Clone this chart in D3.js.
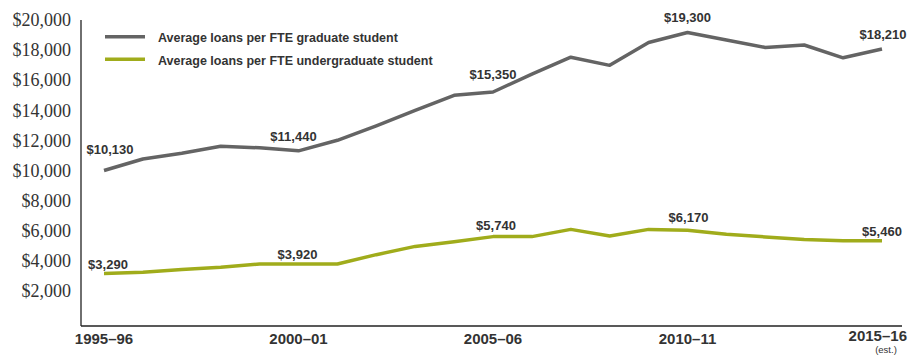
<!DOCTYPE html>
<meta charset="utf-8">
<head>
<title>Average loans per FTE student</title>
<style>
  body { margin: 0; background: #fff; }
  .ytick text { font-family: "Liberation Serif", serif; font-size: 18px; fill: #333; }
  .xlab { font-family: "Liberation Sans", Arial, sans-serif; font-weight: bold; font-size: 15px; fill: #333; }
  .note { font-family: "Liberation Sans", Arial, sans-serif; font-weight: bold; font-size: 13px; fill: #333; }
  .est { font-family: "Liberation Sans", Arial, sans-serif; font-size: 9.5px; fill: #333; }
  .legend text { font-family: "Liberation Sans", Arial, sans-serif; font-weight: bold; font-size: 12.5px; fill: #333; }
</style>
</head>
<body>
<script src="https://cdn.jsdelivr.net/npm/d3@7"></script>
<script>

// academic years 1995-96 .. 2015-16
var years = ["1995–96","1996–97","1997–98","1998–99","1999–00","2000–01","2001–02","2002–03",
  "2003–04","2004–05","2005–06","2006–07","2007–08","2008–09","2009–10","2010–11",
  "2011–12","2012–13","2013–14","2014–15","2015–16"];

var gradLoans = [10130, 10900, 11280, 11750, 11640, 11440, 12140, 13100, 14120, 15130, 15350,
  16540, 17660, 17120, 18640, 19300, 18810, 18310, 18470, 17620, 18210];

var undergradLoans = [3290, 3370, 3550, 3700, 3920, 3920, 3920, 4540, 5090, 5400, 5740,
  5740, 6220, 5780, 6220, 6170, 5890, 5720, 5555, 5460, 5460];

var yTicks = [2000, 4000, 6000, 8000, 10000, 12000, 14000, 16000, 18000, 20000];
var xLabelYears = ["1995–96", "2000–01", "2005–06", "2010–11", "2015–16"];
var labelled = [0, 5, 10, 15, 20];

var width = 909, height = 357;

var svg = d3.select("body").append("svg")
    .attr("width", width)
    .attr("height", height);

var x = d3.scalePoint()
    .domain(years)
    .range([104, 882]);

var y = d3.scaleLinear()
    .domain([0, 20000])
    .range([323, 22]);

var fmt = d3.format("$,");

// y axis labels
var yAxis = d3.axisLeft(y)
    .tickValues(yTicks)
    .tickSize(0)
    .tickPadding(10)
    .tickFormat(fmt);

var yg = svg.append("g")
    .attr("class", "ytick")
    .attr("transform", "translate(81,-2)")
    .call(yAxis);
yg.select(".domain").remove();

// axis lines
svg.append("line")
    .attr("x1", 81).attr("x2", 81)
    .attr("y1", 20).attr("y2", 326)
    .attr("stroke", "#222").attr("stroke-width", 1.3);
svg.append("line")
    .attr("x1", 81).attr("x2", 902)
    .attr("y1", 326).attr("y2", 326)
    .attr("stroke", "#222").attr("stroke-width", 1.3);

// x labels (last one sits against the right edge, a bit higher)
svg.selectAll("text.xlab")
    .data(xLabelYears)
  .enter().append("text")
    .attr("class", "xlab")
    .attr("x", function(d, i) { return i == xLabelYears.length - 1 ? 907 : x(d); })
    .attr("y", function(d, i) { return i == xLabelYears.length - 1 ? 341 : 344; })
    .attr("text-anchor", function(d, i) { return i == xLabelYears.length - 1 ? "end" : "middle"; })
    .text(function(d) { return d; });

svg.append("text")
    .attr("class", "est")
    .attr("x", x("2015–16") + 4)
    .attr("y", 353)
    .attr("text-anchor", "middle")
    .text("(est.)");

var line = d3.line()
    .x(function(d, i) { return x(years[i]); })
    .y(function(d) { return y(d); });

var series = [
  {values: gradLoans, color: "#646464", dy: [-17, -10, -13, -11, -10], dx: [6, -5, 0, 0, 1]},
  {values: undergradLoans, color: "#a0ac1b", dy: [-4, -5, -7, -8, -5], dx: [4, -1, 3, 1, 0]}
];

series.forEach(function(s) {
  svg.append("path")
      .datum(s.values)
      .attr("fill", "none")
      .attr("stroke", s.color)
      .attr("stroke-width", 3.5)
      .attr("stroke-linejoin", "round")
      .attr("d", line);

  svg.selectAll(null)
      .data(labelled)
    .enter().append("text")
      .attr("class", "note")
      .attr("text-anchor", "middle")
      .attr("x", function(i, k) { return x(years[i]) + s.dx[k]; })
      .attr("y", function(i, k) { return y(s.values[i]) + s.dy[k]; })
      .text(function(i) { return fmt(s.values[i]); });
});

// legend
var legend = svg.append("g").attr("class", "legend");
var legendItems = [
  {label: "Average loans per FTE graduate student", color: "#646464"},
  {label: "Average loans per FTE undergraduate student", color: "#a0ac1b"}
];
legendItems.forEach(function(d, i) {
  var ly = 36.7 + i * 22.6;
  legend.append("line")
      .attr("x1", 105).attr("x2", 145)
      .attr("y1", ly).attr("y2", ly)
      .attr("stroke", d.color).attr("stroke-width", 3.5);
  legend.append("text")
      .attr("x", 158)
      .attr("y", ly + 5.5)
      .text(d.label);
});

</script>
</body>
